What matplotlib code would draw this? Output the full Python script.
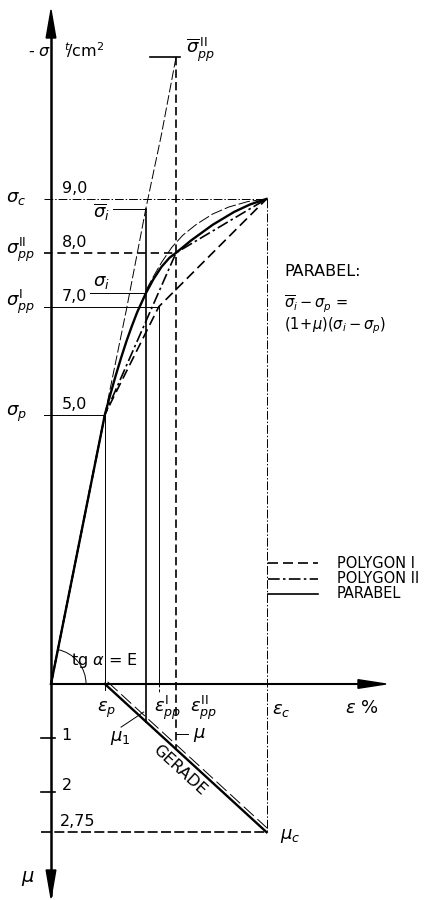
import matplotlib
matplotlib.use("Agg")
import matplotlib.pyplot as plt
from matplotlib.patches import Arc
import numpy as np

# characteristic points of the stress-strain diagram
eps_p, eps_i, eps_ppI, eps_ppII, eps_c = 1.0, 1.76, 2.0, 2.32, 4.0
sig_p, sig_i, sig_ppI, sig_ppII, sig_c = 5.0, 7.25, 7.0, 8.0, 9.0
sigbar_i, sigbar_ppII = 8.82, 11.63
mu_ticks = [1, 2]
mu_c = 2.75

# polygon I / polygon II
poly1_eps = [0.0, 1.0, 2.0, 4.0]
poly1_sig = [0.0, 5.0, 7.0, 9.0]
poly2_eps = [0.0, 1.0, 2.32, 4.0]
poly2_sig = [0.0, 5.0, 8.0, 9.0]

# parabola
par_eps = [0.0, 1.0, 1.1, 1.2, 1.3, 1.4, 1.5, 1.6, 1.76, 1.9, 2.05, 2.2, 2.32,
           2.6, 3.0, 3.4, 3.7, 4.0]
par_sig = [0.0, 5.0, 5.37, 5.72, 6.05, 6.36, 6.64, 6.90, 7.25, 7.51, 7.74, 7.91, 8.0,
           8.23, 8.52, 8.76, 8.90, 9.0]

# sigma-bar curve (1+mu)(sigma - sigma_p)
bar_eps = [1.0, 1.4, 1.76, 2.05, 2.32]
bar_sig = [5.0, 6.95, 8.82, 10.2, 11.63]

# thin upper curve
up_eps = [1.76, 1.9, 2.05, 2.24, 2.45, 2.7, 3.0, 3.3, 3.65, 4.0]
up_sig = [7.3, 7.56, 7.82, 8.1, 8.33, 8.53, 8.72, 8.85, 8.95, 9.0]

# mu line "GERADE"
ger_eps = [1.0, 4.0]
ger_mu = [0.0, 2.75]

S = 53.9  # px per unit


def P(x, y):
    return (x - 51) / S, (684 - y) / S


K = "black"
LWH, LWM, LWT = 1.7, 1.2, 0.7

fig = plt.figure(figsize=(4.34, 9.0), dpi=100)
ax = fig.add_axes([0, 0, 1, 1])
ax.set_xlim(-51 / S, (434 - 51) / S)
ax.set_ylim((684 - 900) / S, 684 / S)
ax.axis("off")

# axes with arrows
ax.plot([0, 0], [P(0, 895)[1], P(0, 20)[1]], color=K, lw=1.8)
ax.plot([0, P(375, 0)[0]], [0, 0], color=K, lw=1.5)
ax.fill([-0.09, 0.09, 0], [P(0, 38)[1], P(0, 38)[1], P(0, 10)[1]], color=K)
ax.fill([-0.09, 0.09, 0], [P(0, 870)[1], P(0, 870)[1], P(0, 898)[1]], color=K)
ax.fill([P(358, 0)[0], P(358, 0)[0], P(386, 0)[0]], [0.08, -0.08, 0], color=K)

x0 = -0.13
mu_i = np.interp(eps_i, ger_eps, ger_mu)
mu_ppII = np.interp(eps_ppII, ger_eps, ger_mu)

# horizontal reference lines
ax.plot([x0, eps_c], [sig_c, sig_c], color=K, lw=LWT, ls=(0, (9, 2, 1.5, 2)))
ax.plot([x0, eps_ppII], [sig_ppII, sig_ppII], color=K, lw=LWM, ls=(0, (5, 3)))
ax.plot([x0, eps_ppI], [sig_ppI, sig_ppI], color=K, lw=LWT)
ax.plot([x0, eps_p], [sig_p, sig_p], color=K, lw=LWT)
ax.plot([0.72, eps_i], [sig_i, sig_i], color=K, lw=LWT)
ax.plot([1.15, eps_i], [sigbar_i, sigbar_i], color=K, lw=LWT)
ax.plot([1.84, 2.39], [sigbar_ppII, sigbar_ppII], color=K, lw=LWM)
ax.plot([x0 - 0.05, eps_c], [-mu_c, -mu_c], color=K, lw=LWM, ls=(0, (6, 2)))

# vertical reference lines
ax.plot([eps_p, eps_p], [sig_p, -0.12], color=K, lw=LWT)
ax.plot([eps_i, eps_i], [sigbar_i, -mu_i], color=K, lw=LWM)
ax.plot([eps_ppI, eps_ppI], [sig_ppI, 0], color=K, lw=LWT)
ax.plot([eps_ppI, eps_ppI], [0, -0.15], color=K, lw=LWT, ls=(0, (3, 2)))
ax.plot([eps_ppII, eps_ppII], [sigbar_ppII, -mu_ppII], color=K, lw=LWM, ls=(0, (5, 2.5)))
ax.plot([eps_c, eps_c], [sig_c, -mu_c], color=K, lw=LWT, ls=(0, (9, 2, 1.5, 2)))

# mu ticks
for m in mu_ticks:
    ax.plot([-0.18, 0.08], [-m, -m], color=K, lw=LWM)

# curves
ax.plot(par_eps, par_sig, color=K, lw=LWH)
ax.plot(poly1_eps, poly1_sig, color=K, lw=LWM, ls=(0, (6, 3)))
ax.plot(poly2_eps, poly2_sig, color=K, lw=LWM, ls=(0, (7, 2, 1.5, 2)))
ax.plot(bar_eps, bar_sig, color=K, lw=LWT, ls=(0, (10, 3)))
ax.plot(up_eps, up_sig, color=K, lw=LWT, ls=(0, (12, 3)))

# mu line and thin companion
ax.plot(ger_eps, [-m for m in ger_mu], color=K, lw=LWH)
ax.plot([e + 0.05 for e in ger_eps], [-m + 0.04 for m in ger_mu], color=K, lw=LWT, ls=(0, (14, 5)))

# leaders
ax.plot([1.72, 1.3], [-0.52, -0.80], color=K, lw=LWT)
ax.plot([eps_ppII, 2.55], [-0.92, -0.92], color=K, lw=LWT)

# angle arc
ax.add_patch(Arc((0, 0), 1.3, 1.3, theta1=0, theta2=np.degrees(np.arctan(5.0)), color=K, lw=LWT))

fs = 11.5
fg = 13
tk = dict(color=K, fontsize=fs)
tg = dict(color=K, fontsize=fg)
tl = dict(color=K, fontsize=10.5)

ax.text(*P(28, 52), r"- $\sigma$", ha="left", va="center", **tk)
ax.text(*P(64, 50), r"$^t\!/$cm$^2$", ha="left", va="center", **tk)
ax.text(*P(186, 50), r"$\overline{\sigma}^{\,\mathrm{II}}_{pp}$", ha="left", va="center", **tg)

ax.text(*P(6, 198), r"$\sigma_c$", ha="left", va="center", **tg)
ax.text(*P(6, 250), r"$\sigma^{\mathrm{II}}_{pp}$", ha="left", va="center", **tg)
ax.text(*P(6, 302), r"$\sigma^{\mathrm{I}}_{pp}$", ha="left", va="center", **tg)
ax.text(*P(6, 414), r"$\sigma_p$", ha="left", va="center", **tg)

ax.text(*P(62, 196), "9,0", ha="left", va="bottom", **tk)
ax.text(*P(62, 250), "8,0", ha="left", va="bottom", **tk)
ax.text(*P(62, 304), "7,0", ha="left", va="bottom", **tk)
ax.text(*P(62, 412), "5,0", ha="left", va="bottom", **tk)

ax.text(*P(110, 212), r"$\overline{\sigma}_i$", ha="right", va="center", **tg)
ax.text(*P(93, 291), r"$\sigma_i$", ha="left", va="bottom", **tg)

ax.text(*P(284, 272), "PARABEL:", ha="left", va="center", **tk)
ax.text(*P(284, 304), r"$\overline{\sigma}_i - \sigma_p$ =", ha="left", va="center", **tl)
ax.text(*P(284, 326), r"$(1\!+\!\mu)(\sigma_i - \sigma_p)$", ha="left", va="center", **tl)

# legend
leg = [("POLYGON I", (0, (6, 3))), ("POLYGON II", (0, (7, 2, 1.5, 2))), ("PARABEL", "-")]
for k, (name, style) in enumerate(leg):
    y = P(0, 563 + 15.5 * k)[1]
    ax.plot([P(268, 0)[0], P(318, 0)[0]], [y, y], color=K, lw=LWM, ls=style)
    ax.text(P(337, 0)[0], y, name, ha="left", va="center", **tl)

ax.text(*P(104, 660), r"tg $\alpha$ = E", ha="center", va="center", **tk)
ax.text(*P(107, 710), r"$\varepsilon_p$", ha="center", va="center", **tg)
ax.text(*P(168, 708), r"$\varepsilon^{\mathrm{I}}_{pp}$", ha="center", va="center", **tg)
ax.text(*P(204, 708), r"$\varepsilon^{\mathrm{II}}_{pp}$", ha="center", va="center", **tg)
ax.text(*P(281, 710), r"$\varepsilon_c$", ha="center", va="center", **tg)
ax.text(*P(362, 708), r"$\varepsilon$ %", ha="center", va="center", **tg)

ax.text(*P(61, 736), "1", ha="left", va="center", **tk)
ax.text(*P(62, 785), "2", ha="left", va="center", **tk)
ax.text(*P(60, 822), "2,75", ha="left", va="center", **tk)

ax.text(*P(120, 738), r"$\mu_1$", ha="center", va="center", **tg)
ax.text(*P(199, 735), r"$\mu$", ha="center", va="center", **tg)
ax.text(*P(290, 836), r"$\mu_c$", ha="center", va="center", **tg)
ax.text(*P(28, 878), r"$\mu$", ha="center", va="center", fontsize=14, color=K)
ax.text(*P(180, 770), "GERADE", ha="center", va="center", rotation=-42.5, **tk)

fig.savefig("out.png", dpi=100, facecolor="white")
